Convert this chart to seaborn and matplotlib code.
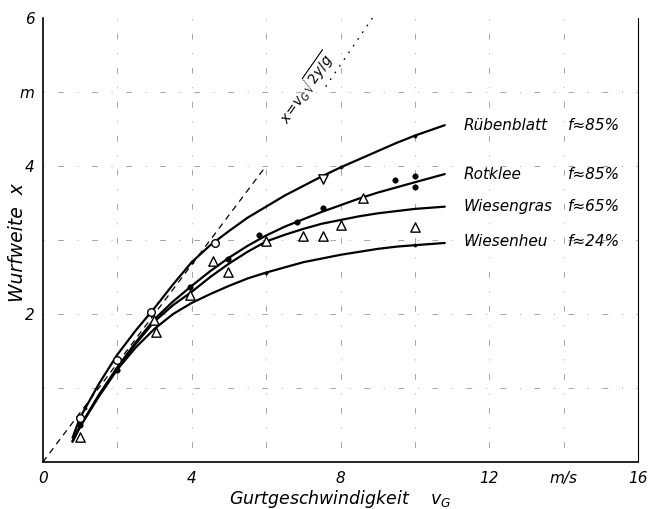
import numpy as np
import pandas as pd
import matplotlib
matplotlib.use("Agg")
import matplotlib.pyplot as plt
import seaborn as sns

# ----------------------------------------------------------
# DATA
# ----------------------------------------------------------

v_curve = [0.8, 1.0, 1.5, 2.0, 2.5, 3.0, 3.5, 4.0, 4.5, 5.0, 5.5, 6.0, 6.5,
           7.0, 7.5, 8.0, 8.5, 9.0, 9.5, 10.0, 10.8]

ruebenblatt = [0.33, 0.60, 1.05, 1.45, 1.78, 2.08, 2.40, 2.70, 2.93, 3.12, 3.30, 3.45,
               3.60, 3.73, 3.86, 3.98, 4.09, 4.20, 4.31, 4.41, 4.55]
rotklee = [0.28, 0.48, 0.90, 1.28, 1.62, 1.93, 2.17, 2.38, 2.58, 2.76, 2.92, 3.06,
           3.18, 3.28, 3.38, 3.47, 3.56, 3.64, 3.71, 3.78, 3.89]
wiesengras = [0.28, 0.48, 0.90, 1.27, 1.60, 1.90, 2.12, 2.30, 2.50, 2.68, 2.84, 2.98,
              3.07, 3.15, 3.22, 3.27, 3.32, 3.36, 3.39, 3.42, 3.45]
wiesenheu = [0.28, 0.48, 0.88, 1.25, 1.55, 1.80, 2.00, 2.15, 2.27, 2.38, 2.48, 2.56,
             2.63, 2.70, 2.75, 2.80, 2.84, 2.88, 2.91, 2.93, 2.96]

curve_names = ["Rübenblatt", "Rotklee", "Wiesengras", "Wiesenheu"]
curve_f = ["f≈85%", "f≈85%", "f≈65%", "f≈24%"]
label_y = [4.55, 3.88, 3.45, 2.98]

# measured points
tri_v = [1.0, 3.05, 3.0, 3.95, 4.58, 4.98, 6.0, 6.98, 7.53, 8.0, 8.6, 10.0]
tri_x = [0.34, 1.76, 1.92, 2.26, 2.71, 2.57, 2.98, 3.05, 3.05, 3.20, 3.57, 3.18]

open_v = [0.99, 2.0, 2.92, 4.62]
open_x = [0.59, 1.38, 2.03, 2.96]

down_v = [7.52]
down_x = [3.83]

dot_v = [1.0, 2.0, 3.95, 4.98, 5.8, 6.82, 7.53, 9.46, 10.0, 10.0]
dot_x = [0.50, 1.24, 2.37, 2.75, 3.07, 3.24, 3.43, 3.81, 3.86, 3.72]

small_v = [1.13, 4.0, 8.0, 10.0, 6.0, 10.0]
small_x = [0.73, 2.70, 3.98, 4.41, 2.56, 2.93]

# throw parabola line x = vG * sqrt(2y/g)
theory_v = [0.0, 6.0]
theory_x = [0.0, 4.0]
theory_v2 = [7.6, 8.86]
theory_x2 = [5.07, 6.0]

# ----------------------------------------------------------
# PLOT
# ----------------------------------------------------------

sns.set_style("white")
plt.rcParams["font.family"] = ["DejaVu Sans"]
plt.rcParams["mathtext.fontset"] = "dejavusans"
for key in ["text.color", "axes.labelcolor", "xtick.color", "ytick.color"]:
    plt.rcParams[key] = "black"

fig = plt.figure(figsize=(6.48, 5.09), dpi=100)
ax = fig.add_axes([0.066, 0.092, 0.919, 0.873])

# broken grid like in the print
for gx in [2, 4, 6, 8, 10, 12, 14]:
    ax.axvline(gx, color="#a5a5a5", lw=0.7, ls=(0, (1, 14, 6, 14)), zorder=0)
for gy in [1, 2, 3, 4, 5]:
    ax.axhline(gy, color="#a5a5a5", lw=0.7, ls=(0, (1, 14, 6, 14)), zorder=0)

curves = pd.DataFrame({
    "v": v_curve * 4,
    "x": ruebenblatt + rotklee + wiesengras + wiesenheu,
    "name": [n for n in curve_names for _ in v_curve],
})

sns.lineplot(
    data=curves, x="v", y="x", units="name", estimator=None,
    color="black", lw=1.6, ax=ax, sort=False
)

ax.plot(theory_v, theory_x, color="black", lw=0.9, ls=(0, (5, 4)))
ax.plot(theory_v2, theory_x2, color="black", lw=0.9, ls=(0, (1.5, 5)))
ax.text(
    7.1, 5.05, r"$x\!=\!v_G\sqrt{2y/g}$", rotation=55,
    ha="center", va="center", fontsize=10, style="italic"
)

sns.scatterplot(x=tri_v, y=tri_x, marker="^", s=45, facecolor="white",
                edgecolor="black", linewidth=1.0, ax=ax, zorder=5)
sns.scatterplot(x=open_v, y=open_x, marker="o", s=30, facecolor="white",
                edgecolor="black", linewidth=1.0, ax=ax, zorder=5)
sns.scatterplot(x=down_v, y=down_x, marker="v", s=45, facecolor="white",
                edgecolor="black", linewidth=1.0, ax=ax, zorder=5)
sns.scatterplot(x=dot_v, y=dot_x, marker="o", s=16, color="black",
                edgecolor="black", ax=ax, zorder=5)
sns.scatterplot(x=small_v, y=small_x, marker="o", s=6, color="black",
                edgecolor="black", ax=ax, zorder=5)

for name, f, y in zip(curve_names, curve_f, label_y):
    ax.text(11.3, y, name, fontsize=11, style="italic", va="center", ha="left")
    ax.text(14.1, y, f, fontsize=11, style="italic", va="center", ha="left")

ax.set_xlim(0, 16)
ax.set_ylim(0, 6)

ax.set_xticks([0, 4, 8, 12, 14, 16])
ax.set_xticklabels(["0", "4", "8", "12", "m/s", "16"], fontsize=11, style="italic")
ax.set_yticks([2, 4, 5, 6])
ax.set_yticklabels(["2", "4", "m", "6"], fontsize=11, style="italic")
ax.tick_params(length=0, pad=6)

ax.set_xlabel(r"Gurtgeschwindigkeit    $v_G$", fontsize=12.5, style="italic", labelpad=2)
ax.set_ylabel("")
fig.text(0.027, 0.523, "Wurfweite  x", fontsize=13.5, style="italic",
         rotation=90, ha="center", va="center")

for side in ["left", "bottom", "right"]:
    ax.spines[side].set_color("black")
    ax.spines[side].set_linewidth(1.2)
ax.spines["right"].set_linewidth(0.8)
ax.spines["top"].set_visible(False)

plt.savefig("out.png", dpi=100)
